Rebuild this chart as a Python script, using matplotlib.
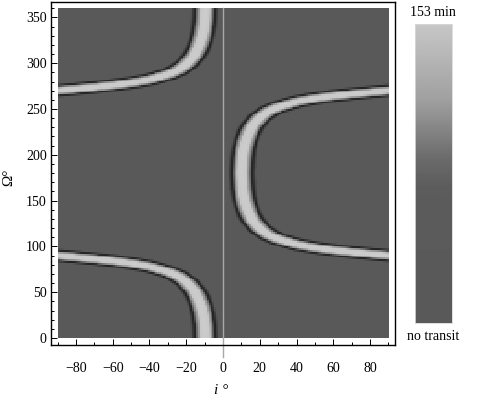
import numpy as np
import matplotlib.pyplot as plt
from matplotlib.ticker import MultipleLocator

plt.rcParams['font.family'] = ['Liberation Serif', 'DejaVu Serif']

# centre lines of the transit bands (i in deg, Omega in deg)
upper_left_i = [-90, -80, -70, -60, -50, -40, -30, -25, -20, -16, -14, -12, -11, -10.5, -10.2, -10]
upper_left_om = [270, 271.8, 273.7, 275.8, 278.5, 282, 287.8, 292, 299, 308, 315, 326, 335, 342, 348, 360]

lower_left_i = [-90, -80, -70, -60, -50, -40, -30, -25, -20, -16, -14, -12, -11, -10.5, -10.2, -10]
lower_left_om = [90, 88.2, 86.3, 84.2, 81.5, 78, 72.2, 68, 61, 52, 45, 34, 25, 18, 12, 0]

right_i = [90, 80, 70, 60, 50, 40, 30, 25, 20, 16, 14, 12, 11, 10.5, 10,
           10.5, 11, 12, 14, 16, 20, 25, 30, 40, 50, 60, 70, 80, 90]
right_om = [90, 91.8, 93.7, 95.8, 98.5, 102, 107.8, 112, 119, 128, 135, 146, 155, 162, 180,
            198, 205, 214, 225, 232, 241, 248, 252.2, 258, 261.5, 264.2, 266.3, 268.2, 270]

# grey level across a band vs distance from its centre line (deg)
profile_dist = [0, 2.4, 3.0, 3.8, 4.5, 5.2, 5.8, 6.6, 7.6]
profile_grey = [0.80, 0.78, 0.64, 0.56, 0.40, 0.16, 0.14, 0.25, 0.355]
background_grey = 0.355

# colour bar: position from bottom (0..1) and grey
cbar_pos = [0.0, 0.45, 0.55, 0.75, 1.0]
cbar_grey = [0.35, 0.36, 0.42, 0.63, 0.78]


def dist_to_line(px, py, xs, ys):
    xs = np.asarray(xs, float)
    ys = np.asarray(ys, float)
    d = np.full(px.shape, np.inf)
    for k in range(len(xs) - 1):
        x0, y0 = xs[k], ys[k]
        dx, dy = xs[k + 1] - x0, ys[k + 1] - y0
        t = ((px - x0) * dx + (py - y0) * dy) / (dx * dx + dy * dy)
        t = np.clip(t, 0, 1)
        d = np.minimum(d, np.hypot(px - x0 - t * dx, py - y0 - t * dy))
    return d


gi = np.arange(-89.5, 90, 1.0)
go = np.arange(1.0, 360, 2.0)
GI, GO = np.meshgrid(gi, go)
dmin = np.minimum(dist_to_line(GI, GO, upper_left_i, upper_left_om),
                  dist_to_line(GI, GO, lower_left_i, lower_left_om))
dmin = np.minimum(dmin, dist_to_line(GI, GO, right_i, right_om))
img = np.interp(dmin, profile_dist, profile_grey, right=background_grey)

fig = plt.figure(figsize=(4.79, 4.04), dpi=100)
ax = fig.add_axes([51 / 479, 1 - 345 / 404, 344 / 479, 343 / 404])
ax.imshow(img, cmap='gray', vmin=0, vmax=1, origin='lower', aspect='auto',
          extent=(-90, 90, 0, 360), interpolation='nearest')
ax.set_xlim(-93.6, 93.6)
ax.set_ylim(-7.6, 366.8)

ax.axvline(0, ymin=-0.035, ymax=(360 + 7.6) / 374.4, color='#a8a8a8', lw=1, clip_on=False)

ax.xaxis.set_minor_locator(MultipleLocator(10))
ax.yaxis.set_minor_locator(MultipleLocator(10))
ax.set_xticks(np.arange(-80, 81, 20))
ax.set_xticklabels([('\u2212' + str(-v)) if v < 0 else str(v) for v in range(-80, 81, 20)])
ax.set_yticks(np.arange(0, 351, 50))
ax.tick_params(which='both', direction='in', top=False, right=False, labelsize=10, width=0.7)
ax.tick_params(which='major', length=4)
ax.tick_params(which='minor', length=2.2)
ax.tick_params(axis='x', pad=12)
ax.tick_params(axis='y', pad=3)
for s in ax.spines.values():
    s.set_linewidth(1.0)

fig.text(221 / 479, 1 - 391 / 404, 'i \u00b0', ha='center', va='center', fontsize=11,
         fontstyle='italic')
fig.text(9 / 479, 1 - 177 / 404, '\u03a9\u00b0', ha='center', va='center', fontsize=11,
         rotation=90)

cax = fig.add_axes([415 / 479, 1 - 323 / 404, 37 / 479, 299 / 404])
col = np.interp(np.linspace(0, 1, 256), cbar_pos, cbar_grey)[:, None]
cax.imshow(col, cmap='gray', vmin=0, vmax=1, origin='lower', aspect='auto',
           extent=(0, 1, 0, 153))
cax.set_xticks([])
cax.set_yticks([])
for s in cax.spines.values():
    s.set_color('#d8d8d8')
    s.set_linewidth(0.6)

fig.text(433 / 479, 1 - 12 / 404, '153 min', ha='center', va='center', fontsize=10)
fig.text(433 / 479, 1 - 336 / 404, 'no transit', ha='center', va='center', fontsize=10)

fig.savefig('out.png', dpi=100, facecolor='white')
